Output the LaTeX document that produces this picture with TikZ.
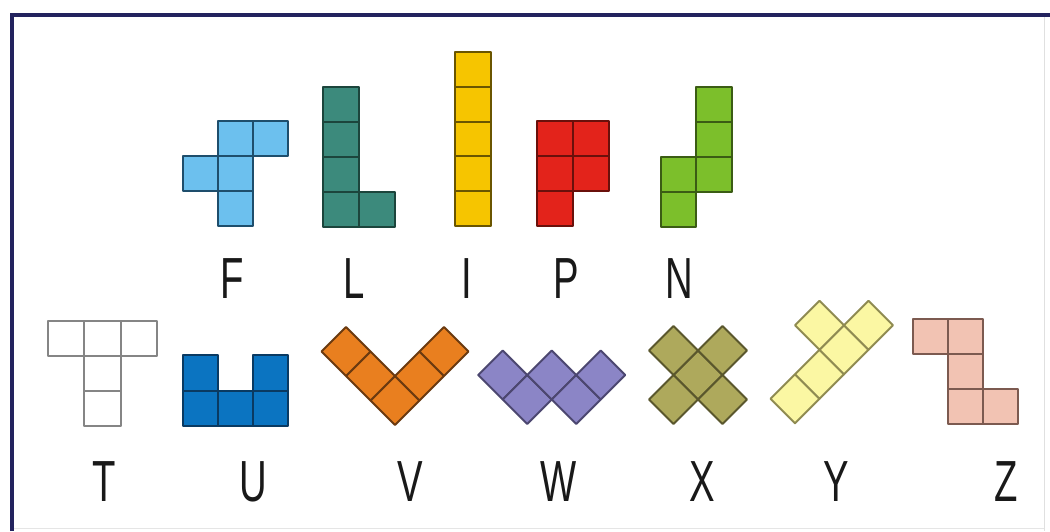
\documentclass[tikz,border=0pt]{standalone}
\usepackage{fontspec}
\setmainfont{Liberation Sans}
\definecolor{frame}{HTML}{23235E}
\definecolor{fF}{HTML}{6CC0EE}\definecolor{dF}{HTML}{1E4E6C}
\definecolor{fL}{HTML}{3C8A7C}\definecolor{dL}{HTML}{1C453C}
\definecolor{fI}{HTML}{F6C500}\definecolor{dI}{HTML}{6A5500}
\definecolor{fP}{HTML}{E3231B}\definecolor{dP}{HTML}{6A100B}
\definecolor{fN}{HTML}{7CBF2B}\definecolor{dN}{HTML}{3B5C14}
\definecolor{fT}{HTML}{FFFFFF}\definecolor{dT}{HTML}{858585}
\definecolor{fU}{HTML}{0B74C1}\definecolor{dU}{HTML}{0A3A62}
\definecolor{fV}{HTML}{E97F1F}\definecolor{dV}{HTML}{6B3A10}
\definecolor{fW}{HTML}{8B85C6}\definecolor{dW}{HTML}{4C4770}
\definecolor{fX}{HTML}{AEA95C}\definecolor{dX}{HTML}{5A572D}
\definecolor{fY}{HTML}{FBF7A3}\definecolor{dY}{HTML}{8F8B52}
\definecolor{fZ}{HTML}{F2C3B3}\definecolor{dZ}{HTML}{7C5A50}
\newcommand\pcell[2]{\path[cellst] (#1,#2) -- ++(1,0) -- ++(0,1) -- ++(-1,0) -- cycle;}
\tikzset{
  cellst/.style={draw, line width=2pt, line join=round},
  piece/.style={cellst/.style={fill=f#1, draw=d#1, line width=2pt, line join=round}},
  lbl/.style={font=\fontsize{58}{60}\selectfont, xscale=0.66, anchor=base, inner sep=0pt, text=black!90}
}
\begin{document}
\begin{tikzpicture}[x=1pt,y=-1pt]
\fill[white] (0,0) rectangle (1050,531);
\useasboundingbox (0,0) rectangle (1050,531);
% frame
\draw[black!12, line width=0.8pt] (1044,15) -- (1044,531);
\draw[black!10, line width=0.8pt] (12,528) -- (1044,528);
\draw[frame, line width=3.5pt] (12,531) -- (12,15) -- (1050,15);
% F
\begin{scope}[shift={(182.7,121)}, x={(35pt,0pt)}, y={(0pt,-35pt)}, piece=F]
\pcell{1}{0}\pcell{2}{0}\pcell{0}{1}\pcell{1}{1}\pcell{1}{2}
\end{scope}
% L
\begin{scope}[shift={(323.3,86.7)}, x={(35.8pt,0pt)}, y={(0pt,-35pt)}, piece=L]
\pcell{0}{0}\pcell{0}{1}\pcell{0}{2}\pcell{0}{3}\pcell{1}{3}
\end{scope}
% I
\begin{scope}[shift={(455,51.7)}, x={(36pt,0pt)}, y={(0pt,-34.9pt)}, piece=I]
\pcell{0}{0}\pcell{0}{1}\pcell{0}{2}\pcell{0}{3}\pcell{0}{4}
\end{scope}
% P
\begin{scope}[shift={(536.7,121)}, x={(36.3pt,0pt)}, y={(0pt,-35pt)}, piece=P]
\pcell{0}{0}\pcell{1}{0}\pcell{0}{1}\pcell{1}{1}\pcell{0}{2}
\end{scope}
% N
\begin{scope}[shift={(660.7,86.7)}, x={(35.5pt,0pt)}, y={(0pt,-35pt)}, piece=N]
\pcell{1}{0}\pcell{1}{1}\pcell{1}{2}\pcell{0}{2}\pcell{0}{3}
\end{scope}
% T
\begin{scope}[shift={(48.3,320.7)}, x={(36.1pt,0pt)}, y={(0pt,-35.1pt)}, piece=T]
\pcell{0}{0}\pcell{1}{0}\pcell{2}{0}\pcell{1}{1}\pcell{1}{2}
\end{scope}
% U
\begin{scope}[shift={(182.7,355)}, x={(35.2pt,0pt)}, y={(0pt,-35.5pt)}, piece=U]
\pcell{0}{0}\pcell{2}{0}\pcell{0}{1}\pcell{1}{1}\pcell{2}{1}
\end{scope}
% V
\begin{scope}[shift={(395,425)}, x={(24.5pt,24.5pt)}, y={(-24.5pt,24.5pt)}, piece=V]
\pcell{0}{0}\pcell{1}{0}\pcell{2}{0}\pcell{0}{1}\pcell{0}{2}
\end{scope}
% W
\begin{scope}[shift={(478.2,375)}, x={(24.5pt,-24.5pt)}, y={(24.5pt,24.5pt)}, piece=W]
\pcell{0}{0}\pcell{1}{0}\pcell{1}{1}\pcell{2}{1}\pcell{2}{2}
\end{scope}
% X
\begin{scope}[shift={(698,448.5)}, x={(24.5pt,24.5pt)}, y={(-24.5pt,24.5pt)}, piece=X]
\pcell{1}{1}\pcell{0}{1}\pcell{2}{1}\pcell{1}{0}\pcell{1}{2}
\end{scope}
% Y
\begin{scope}[shift={(795,423.3)}, x={(24.5pt,24.5pt)}, y={(-24.5pt,24.5pt)}, piece=Y]
\pcell{0}{0}\pcell{1}{0}\pcell{2}{0}\pcell{3}{0}\pcell{2}{1}
\end{scope}
% Z
\begin{scope}[shift={(913.3,319.3)}, x={(35pt,0pt)}, y={(0pt,-35pt)}, piece=Z]
\pcell{0}{0}\pcell{1}{0}\pcell{1}{1}\pcell{1}{2}\pcell{2}{2}
\end{scope}
% labels
\node[lbl] (lF) at (232,298) {F};
\node[lbl] (lL) at (354,298) {L};
\node[lbl] (lI) at (467,298) {I};
\node[lbl] (lP) at (566,298) {P};
\node[lbl] (lN) at (679,298) {N};
\node[lbl] (lT) at (104,501) {T};
\node[lbl] (lU) at (253,501) {U};
\node[lbl] (lV) at (410,501) {V};
\node[lbl] (lW) at (559,501) {W};
\node[lbl] (lX) at (702,501) {X};
\node[lbl] (lY) at (836,501) {Y};
\node[lbl] (lZ) at (1006,501) {Z};
\end{tikzpicture}
\end{document}
